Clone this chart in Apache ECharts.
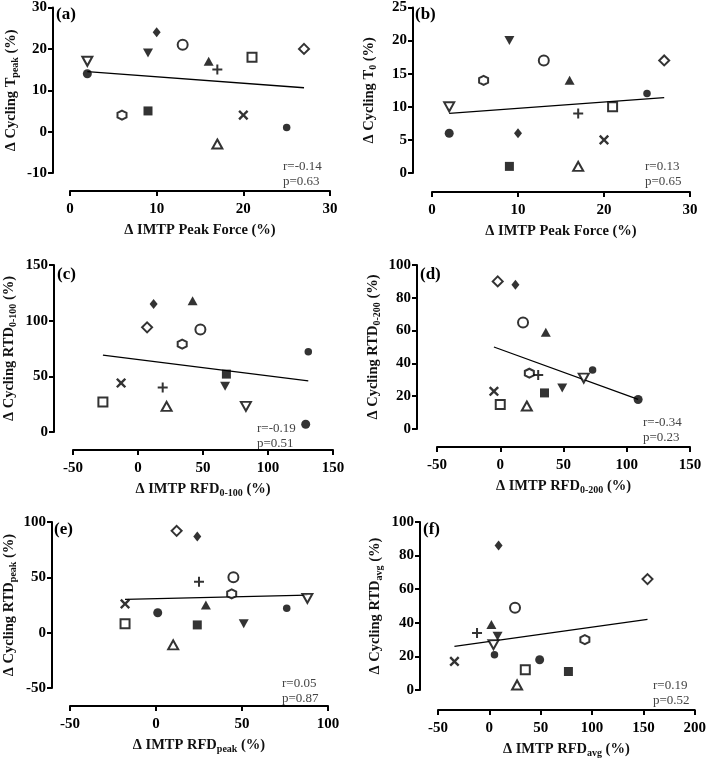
<!DOCTYPE html>
<html>
<head>
<meta charset="utf-8">
<script src="https://cdn.jsdelivr.net/npm/echarts@6/dist/echarts.min.js"></script>
<style>
html,body{margin:0;padding:0;background:#fff;}
#chart{width:709px;height:759px;}
</style>
</head>
<body>
<div id="chart"></div>
<script>
// ---------- DATA (14 participants, same order in every panel) ----------
// order: big filled circle, small filled circle, open circle, open hexagon,
// filled diamond, open diamond, filled tri-up, open tri-up, filled tri-down,
// open tri-down, filled square, open square, plus, cross
const peakForceX = [2, 25, 13, 6, 10, 27, 16, 17, 9, 2, 9, 21, 17, 20];
const tPeakY     = [14, 1, 21, 4, 24, 20, 17, -3, 19, 17, 5, 18, 15, 4];
const t0Y        = [6, 12, 17, 14, 6, 17, 14, 1, 20, 10, 1, 10, 9, 5];
const rfd100X    = [129, 131, 48, 34, 12, 7, 42, 22, 67, 83, 68, -27, 19, -13];
const rtd100Y    = [7, 72, 92, 79, 115, 94, 118, 23, 41, 23, 52, 27, 40, 44];
const rfd200X    = [109, 73, 18, 23, 12, -2, 36, 21, 49, 66, 35, 0, 30, -5];
const rtd200Y    = [18, 36, 65, 34, 88, 90, 59, 14, 25, 31, 22, 15, 33, 23];
const rfdPeakX   = [1, 76, 45, 44, 24, 12, 29, 10, 51, 88, 24, -18, 25, -18];
const rtdPeakY   = [18, 22, 50, 35, 87, 92, 25, -11, 8, 31, 7, 8, 46, 26];
const rfdAvgX    = [49, 5, 25, 93, 9, 154, 2, 27, 8, 4, 77, 35, -12, -34];
const rtdAvgY    = [18, 21, 49, 30, 86, 66, 39, 3, 32, 27, 11, 12, 34, 17];

// regression line end points
const fitA = [[2, 14.5], [27, 10.6]];
const fitB = [[2, 9.0], [27, 11.4]];
const fitC = [[-27, 69], [131, 46]];
const fitD = [[-5, 50], [109, 18]];
const fitE = [[-18, 30], [88, 34]];
const fitF = [[-34, 26], [154, 42]];

const panelLabels = ['(a)', '(b)', '(c)', '(d)', '(e)', '(f)'];
const rTexts = ['r=-0.14', 'r=0.13', 'r=-0.19', 'r=-0.34', 'r=0.05', 'r=0.19'];
const pTexts = ['p=0.63', 'p=0.65', 'p=0.51', 'p=0.23', 'p=0.87', 'p=0.52'];

// axis ranges [min, max, interval]
const xRanges = [[0, 30, 10], [0, 30, 10], [-50, 150, 50], [-50, 150, 50], [-50, 100, 50], [-50, 200, 50]];
const yRanges = [[-10, 30, 10], [0, 25, 5], [0, 150, 50], [0, 100, 20], [-50, 100, 50], [0, 100, 20]];

// axis titles: [main, subscript]
const yTitles = [['Δ Cycling T', 'peak'], ['Δ Cycling T', '0'], ['Δ Cycling RTD', '0-100'],
                 ['Δ Cycling RTD', '0-200'], ['Δ Cycling RTD', 'peak'], ['Δ Cycling RTD', 'avg']];
const xTitles = [['Δ IMTP Peak Force (%)', ''], ['Δ IMTP Peak Force (%)', ''], ['Δ IMTP RFD', '0-100'],
                 ['Δ IMTP RFD', '0-200'], ['Δ IMTP RFD', 'peak'], ['Δ IMTP RFD', 'avg']];

const panelXs = [peakForceX, peakForceX, rfd100X, rfd200X, rfdPeakX, rfdAvgX];
const panelYs = [tPeakY, t0Y, rtd100Y, rtd200Y, rtdPeakY, rtdAvgY];
const panelFits = [fitA, fitB, fitC, fitD, fitE, fitF];

// ---------- STYLE / LAYOUT ----------
const FONT = '"Liberation Serif", "Times New Roman", serif';
const filled = {color: '#000'};
const open = {color: '#fff', borderColor: '#000', borderWidth: 2};
const plusPath = 'path://M4,0H6V4H10V6H6V10H4V6H0V4H4Z';
const hexPath = 'path://M5,0L9.33,2.5L9.33,7.5L5,10L0.67,7.5L0.67,2.5Z';
const markers = [
  {symbol: 'circle', symbolSize: 9, itemStyle: filled},
  {symbol: 'circle', symbolSize: 7.5, itemStyle: filled},
  {symbol: 'circle', symbolSize: 10, itemStyle: open},
  {symbol: hexPath, symbolSize: 9, itemStyle: open},
  {symbol: 'diamond', symbolSize: [8, 10], itemStyle: filled},
  {symbol: 'diamond', symbolSize: [10, 10], itemStyle: open},
  {symbol: 'triangle', symbolSize: [10, 9], itemStyle: filled},
  {symbol: 'triangle', symbolSize: [10, 9], itemStyle: open},
  {symbol: 'triangle', symbolSize: [10, 9], symbolRotate: 180, itemStyle: filled},
  {symbol: 'triangle', symbolSize: [10, 9], symbolRotate: 180, itemStyle: open},
  {symbol: 'rect', symbolSize: 9, itemStyle: filled},
  {symbol: 'rect', symbolSize: 9, itemStyle: open},
  {symbol: plusPath, symbolSize: 10, itemStyle: filled},
  {symbol: plusPath, symbolSize: 12, symbolRotate: 45, itemStyle: filled}
];

// grid boxes and offsets (px)
const layout = [
  {l: 70, t: 6, r: 330, b: 173, yAxisX: 53, xAxisY: 191, yGap: 33, xGap: 30, rx: 283, ry: 168, lx: 56, ly: 15},
  {l: 432, t: 6, r: 690, b: 173, yAxisX: 413, xAxisY: 192, yGap: 35, xGap: 30, rx: 645, ry: 168, lx: 415, ly: 15},
  {l: 73, t: 265, r: 333, b: 432, yAxisX: 54, xAxisY: 450, yGap: 36, xGap: 30, rx: 257, ry: 430, lx: 57, ly: 275},
  {l: 437, t: 265, r: 690, b: 429, yAxisX: 417, xAxisY: 447, yGap: 35, xGap: 30, rx: 643, ry: 424, lx: 420, ly: 275},
  {l: 70, t: 522, r: 328, b: 688, yAxisX: 52, xAxisY: 706, yGap: 34, xGap: 30, rx: 282, ry: 685, lx: 54, ly: 530},
  {l: 438, t: 522, r: 698, b: 690, yAxisX: 420, xAxisY: 710, yGap: 36, xGap: 30, rx: 653, ry: 687, lx: 423, ly: 530}
];

const richStyles = {
  n: {fontFamily: FONT, fontWeight: 'bold', fontSize: 14.5, color: '#111', lineHeight: 18, verticalAlign: 'middle'},
  s: {fontFamily: FONT, fontWeight: 'bold', fontSize: 10, color: '#111', lineHeight: 9, verticalAlign: 'bottom'}
};
function titleText(t) {
  if (!t[1]) return '{n|' + t[0] + '}';
  return '{n|' + t[0] + '}{s|' + t[1] + '}{n| (%)}';
}

const grids = [], xAxes = [], yAxes = [], series = [], graphics = [];
layout.forEach((L, i) => {
  grids.push({left: L.l, top: L.t, width: L.r - L.l, height: L.b - L.t});
  const axisCommon = {
    gridIndex: i,
    type: 'value',
    axisLine: {show: true, onZero: false, lineStyle: {color: '#000', width: 2}},
    axisTick: {show: true, length: 5, lineStyle: {color: '#000', width: 2}},
    splitLine: {show: false},
    nameLocation: 'middle'
  };
  xAxes.push(Object.assign({}, axisCommon, {
    min: xRanges[i][0], max: xRanges[i][1], interval: xRanges[i][2],
    position: 'bottom', offset: L.xAxisY - L.b,
    axisLabel: {fontFamily: FONT, fontWeight: 'bold', fontSize: 15, color: '#000', margin: 11},
    name: titleText(xTitles[i]), nameGap: L.xGap,
    nameTextStyle: {rich: richStyles}
  }));
  yAxes.push(Object.assign({}, axisCommon, {
    min: yRanges[i][0], max: yRanges[i][1], interval: yRanges[i][2],
    position: 'left', offset: L.l - L.yAxisX,
    axisLabel: {fontFamily: FONT, fontWeight: 'bold', fontSize: 15, color: '#000', margin: 6},
    name: titleText(yTitles[i]), nameGap: L.yGap, nameRotate: 90,
    nameTextStyle: {rich: richStyles}
  }));
  const pts = panelXs[i].map((x, k) => Object.assign({value: [x, panelYs[i][k]]}, markers[k]));
  series.push({
    type: 'line', xAxisIndex: i, yAxisIndex: i, data: panelFits[i],
    showSymbol: false, symbol: 'none', silent: true,
    lineStyle: {color: '#000', width: 1.3}, z: 1
  });
  series.push({
    type: 'scatter', xAxisIndex: i, yAxisIndex: i, data: pts, z: 3, silent: true
  });
  graphics.push({
    type: 'text', left: L.lx, top: L.ly - 9,
    style: {text: panelLabels[i], font: 'bold 17px ' + FONT, fill: '#000'}
  });
  graphics.push({
    type: 'text', left: L.rx, top: L.ry - 8,
    style: {text: rTexts[i], font: '13px ' + FONT, fill: '#444'}
  });
  graphics.push({
    type: 'text', left: L.rx, top: L.ry + 7,
    style: {text: pTexts[i], font: '13px ' + FONT, fill: '#444'}
  });
});

const chart = echarts.init(document.getElementById('chart'), null, {renderer: 'canvas'});
chart.setOption({
  backgroundColor: '#fff',
  animation: false,
  grid: grids,
  xAxis: xAxes,
  yAxis: yAxes,
  series: series,
  graphic: graphics
});
</script>
</body>
</html>
